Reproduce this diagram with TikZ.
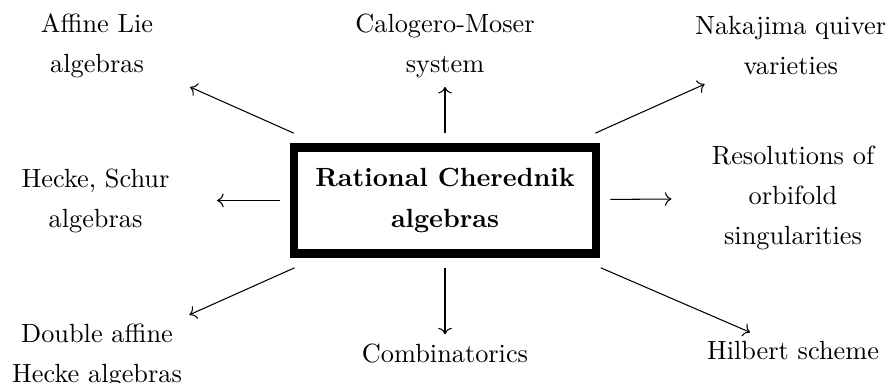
\documentclass[tikz,border=0pt]{standalone}
\usetikzlibrary{arrows.meta,positioning}

\begin{document}
\begin{tikzpicture}[
    topic/.style={align=center, text width=3cm, font=\linespread{1.27}\selectfont},
    hubnode/.style={draw=black, line width=3.2pt, inner sep=8pt, outer sep=5.5pt, align=center, font=\bfseries\linespread{1.27}\selectfont}
]
\useasboundingbox (-5.947,-2.439) rectangle (5.973,2.679);
\node[hubnode] (rca) at (0,0) {Rational Cherednik \\ algebras};

\node[topic] (lie) at (-4.65,2.07) {Affine Lie \\ algebras};
\node[topic] (cms) at (0,2.07) {Calogero-Moser \\ system};
\node[topic] (quiver) at (4.62,2.07) {Nakajima quiver \\ varieties};
\node[topic] (hecke) at (-4.67,0) {Hecke, Schur \\ algebras};
\node[topic] (orbi) at (4.65,0.03) {Resolutions of \\ orbifold \\ singularities};
\node[topic] (daha) at (-4.65,-2.08) {Double affine \\ Hecke algebras};
\node[topic] (comb) at (0,-2.04) {Combinatorics};
\node[topic] (hilb) at (4.65,-2.01) {Hilbert scheme};

\draw[->] (rca) -- (lie);
\draw[->] (rca) -- (cms);
\draw[->] (rca) -- (quiver);
\draw[->] (rca) -- (hecke);
\draw[->] (rca) -- (orbi);
\draw[->] (rca) -- (daha);
\draw[->] (rca) -- (comb);
\draw[->] (rca) -- (hilb);
\end{tikzpicture}
\end{document}
